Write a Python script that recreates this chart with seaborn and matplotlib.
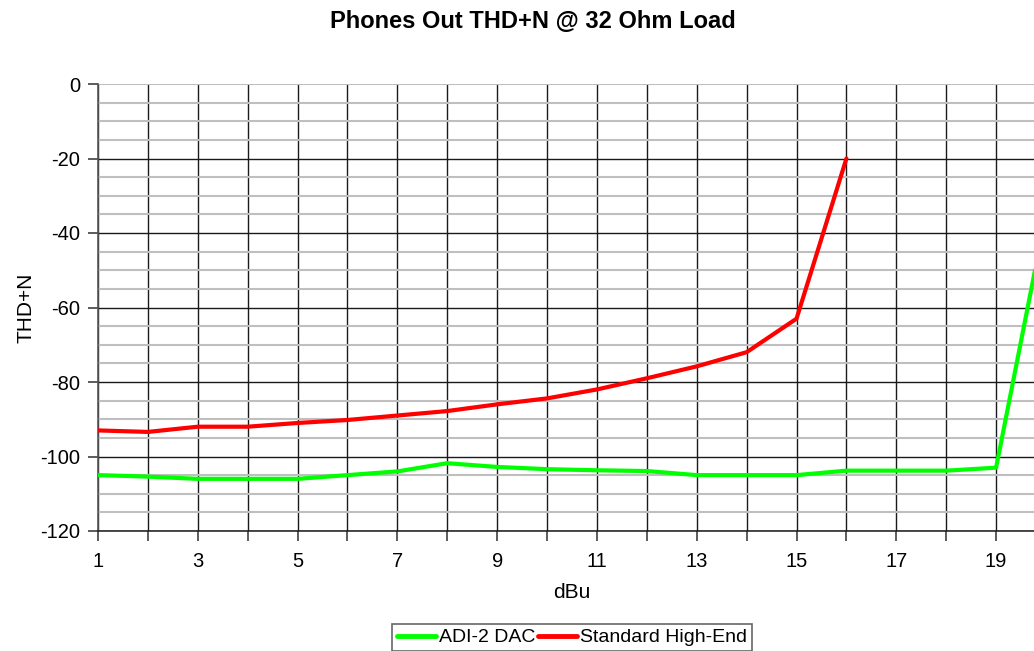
import matplotlib
matplotlib.use("Agg")
import matplotlib.pyplot as plt
from matplotlib.ticker import MultipleLocator
import seaborn as sns
import pandas as pd

# Output level (dBu) and measured THD+N (dB) for both headphone outputs
dbu = list(range(1, 21))
adi2_dac = [-105, -105.4, -106, -106, -106, -105, -104, -101.8, -102.8, -103.4,
            -103.7, -103.9, -105, -105, -105, -103.8, -103.8, -103.8, -103, -35]
dbu_std = list(range(1, 17))
standard_high_end = [-93, -93.4, -92, -92, -91, -90.2, -89, -87.8, -86, -84.4,
                     -82, -79, -75.8, -72, -63, -20]

series_names = ["ADI-2 DAC", "Standard High-End"]
series_colors = ["#00ff00", "#ff0000"]

df = pd.concat([
    pd.DataFrame({"dBu": dbu, "THD+N": adi2_dac, "Device": series_names[0]}),
    pd.DataFrame({"dBu": dbu_std, "THD+N": standard_high_end, "Device": series_names[1]}),
], ignore_index=True)

sns.set_theme(style="white")
plt.rcParams["font.family"] = ["Liberation Sans", "DejaVu Sans"]
plt.rcParams["axes.unicode_minus"] = False
plt.rcParams["text.color"] = "black"
plt.rcParams["axes.labelcolor"] = "black"

fig = plt.figure(figsize=(10.34, 6.51), dpi=100)
ax = fig.add_axes([98 / 1034, 1 - 531 / 651, (1046 - 98) / 1034, (531 - 84) / 651])

sns.lineplot(data=df, x="dBu", y="THD+N", hue="Device", hue_order=series_names,
             palette=series_colors, linewidth=3, ax=ax, legend=False, zorder=3)

ax.set_xlim(1, 20)
ax.set_ylim(-120, 0)

# x ticks on every dBu step, labels on odd values only
ax.set_xticks(dbu)
ax.set_xticklabels([str(v) if v % 2 == 1 else "" for v in dbu])
ax.set_yticks(range(-120, 1, 20))
ax.yaxis.set_minor_locator(MultipleLocator(5))

ax.tick_params(axis="both", which="major", direction="out", length=7, width=1.1,
               color="#303030", labelsize=14.5, labelcolor="black",
               bottom=True, left=True)
ax.tick_params(axis="x", which="major", pad=8)
ax.tick_params(axis="y", which="major", pad=6)
ax.tick_params(axis="y", which="minor", length=0)

ax.grid(which="major", axis="both", color="#1a1a1a", linewidth=1.0, zorder=1)
ax.grid(which="minor", axis="y", color="#bfbfbf", linewidth=1.5, zorder=0)
# the 0 dB line at the top is drawn in the light grid colour
ax.yaxis.get_gridlines()[-1].set_color("#bfbfbf")
ax.yaxis.get_gridlines()[-1].set_linewidth(1.5)
ax.set_axisbelow(True)

for side in ["top", "right"]:
    ax.spines[side].set_visible(False)
ax.spines["left"].set_color("#555555")
ax.spines["left"].set_linewidth(1.2)
ax.spines["bottom"].set_color("#1a1a1a")
ax.spines["bottom"].set_linewidth(1.1)

ax.set_xlabel("dBu", fontsize=15, labelpad=9)
ax.set_ylabel("THD+N", fontsize=15, labelpad=3)

fig.text(533 / 1034, 1 - 21 / 651, "Phones Out THD+N @ 32 Ohm Load",
         ha="center", va="center", fontsize=17, fontweight="bold")

handles = [plt.Line2D([], [], color=c, linewidth=3.5) for c in series_colors]
leg = fig.legend(handles, series_names, loc="upper center",
                 bbox_to_anchor=(572 / 1034, 1 - 624 / 651), ncol=2,
                 frameon=True, fancybox=False, fontsize=14,
                 handlelength=2.0, handletextpad=0.15, columnspacing=0.15,
                 borderpad=0.25, borderaxespad=0)
leg.get_frame().set_edgecolor("#404040")
leg.get_frame().set_linewidth(1.2)

fig.savefig("out.png", dpi=100)
